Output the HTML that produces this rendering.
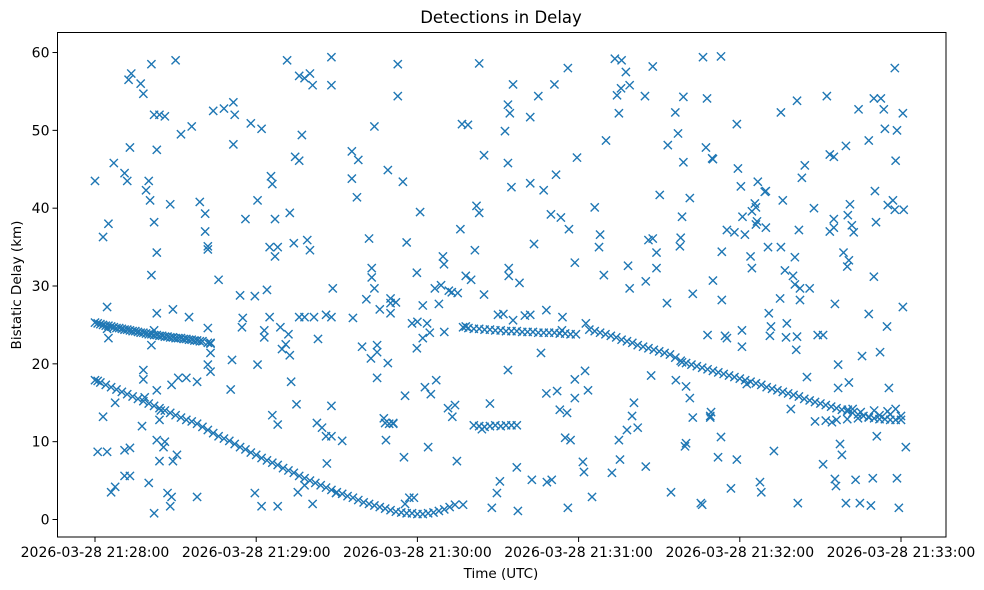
<!DOCTYPE html>
<html><head><meta charset="utf-8"><style>
body{margin:0;background:#fff;width:984px;height:590px;overflow:hidden}
svg{display:block;font-family:"DejaVu Sans","Liberation Sans",sans-serif}
</style></head><body>
<svg id="chart" width="984" height="590" viewBox="0 0 984 590">
<rect width="984" height="590" fill="#fff"/>
<text x="501" y="23" text-anchor="middle" font-size="16.5">Detections in Delay</text>
<text x="501" y="578" text-anchor="middle" font-size="13.5">Time (UTC)</text>
<text transform="translate(21,285) rotate(-90)" text-anchor="middle" font-size="13.5">Bistatic Delay (km)</text>
<g id="marks"></g>
<g id="axes"></g>
<rect x="57.5" y="32.5" width="888.5" height="504.5" fill="none" stroke="#000" stroke-width="1"/>
</svg>
<script>
const xTickVals=[0,60,120,180,240,300];
const xTickLabels=["2026-03-28 21:28:00","2026-03-28 21:29:00","2026-03-28 21:30:00","2026-03-28 21:31:00","2026-03-28 21:32:00","2026-03-28 21:33:00"];
const yTickVals=[0,10,20,30,40,50,60];
const yTickLabels=["0","10","20","30","40","50","60"];
const trackAT=[0,1,2,3,4,5,6,7,8,9,10,11,12,13,14,15,16,17,18,19,20,21,22,23,24,25,26,27,28,29,30,31,32,33,34,35,36,37,38,39,40,42,43];
const trackAD=[25.3,25.2,25.1,25.0,24.9,24.9,24.8,24.7,24.6,24.6,24.5,24.4,24.4,24.3,24.2,24.2,24.1,24.0,24.0,23.9,23.8,23.8,23.7,23.7,23.6,23.6,23.5,23.5,23.4,23.4,23.3,23.3,23.3,23.2,23.2,23.1,23.1,23.0,23.0,22.9,22.9,22.7,22.7];
const trackBT=[0,1,2,4,6,8,10,12,14,16,18,20,22,24,26,28,30,32,34,36,38,40,42,44,46,48,50,52,54,56,58,60,62,64,66,68,70,72,74,76,78,80,82,84,86,88,90,92,94,96,98,100,102,104,106,108,110,112,114,116,118,120,122,124,126,128,130,132,134];
const trackBD=[17.9,17.8,17.6,17.3,17.0,16.7,16.4,16.1,15.8,15.5,15.2,14.9,14.6,14.3,14.0,13.7,13.4,13.1,12.8,12.6,12.3,11.9,11.5,11.1,10.7,10.4,10.1,9.7,9.3,9.0,8.6,8.3,7.9,7.6,7.3,7.0,6.6,6.3,6.0,5.6,5.3,5.0,4.7,4.4,4.1,3.8,3.5,3.3,3.0,2.8,2.5,2.2,2.0,1.8,1.6,1.4,1.2,1.0,0.9,0.8,0.8,0.7,0.7,0.8,0.9,1.1,1.3,1.6,1.9];
const trackCT=[137,138,139,141,143,145,147,149,151,153,155,157,159,161,163,165,167,169,171,173,175,177,179,184,186,188,190,192,194,196,198,200,202,204,206,208,210,212,214,216,218,220,222,224,226,228,230,232,234,236,238,240,242,244,246,248,250,252,254,256,258,260,262,264,266,268,270,272,274,276,278,280,282,284,286,288,290,292,294,296,298,300];
const trackCD=[24.7,24.8,24.6,24.5,24.5,24.4,24.4,24.3,24.3,24.2,24.2,24.2,24.1,24.1,24.1,24.0,24.0,24.0,24.0,23.9,23.9,23.8,23.8,24.4,24.2,24.0,23.8,23.6,23.4,23.1,22.9,22.7,22.4,22.2,22.0,21.8,21.6,21.4,21.2,20.8,20.4,20.1,19.9,19.7,19.5,19.3,19.1,18.9,18.7,18.5,18.3,18.1,17.9,17.7,17.5,17.3,17.0,16.8,16.6,16.4,16.2,16.0,15.8,15.5,15.3,15.1,14.9,14.7,14.5,14.3,14.1,13.9,13.7,13.5,13.3,13.1,13.0,12.9,12.9,12.8,12.8,12.8];
const clusterT=[268,272,276,280,284,288,292,296,300,282,285,290,295,298,141,143,145,147,149,151,153,155,157,108,109.5,111,150,152,160,162,110,112];
const clusterD=[12.6,12.7,12.8,12.9,13.0,13.2,13.4,13.5,13.3,14.2,13.8,14.0,13.9,14.2,12.1,12.0,11.9,12.0,12.1,12.0,12.1,12.1,12.1,12.4,12.3,12.3,26.3,26.4,26.2,26.3,27.8,27.9];
const noiseT=[0,3,5,7,11,12,13,13.5,12.5,17,18,21,20,19,20.5,21,23,22,24,26,30,28,22,23,1,4.5,3,7.5,6,7.5,11,13,11,13,17.5,18.5,18,18,21,22,23,23,24,24.5,25.5,24,20,22,27,29,28,28.5,30.5,29,23,4.5,4.5,5,31,28.5,26,
32,36,34,35,38,38,39,41,41,42,42,42,43,43,42,43,44,48,51.5,52,51.5,46,51,50.5,54,55,54.7,56,58,59.5,62,60.5,60.5,59.5,62,63,63,64,65,65,65.5,66,67,68,67,66,68,68,69,69.6,
71.5,76,78,80,81,77,74.5,76,72.5,74,79,80,72,71,72.5,73,75,76,78,81.5,83,86,88,88,88,88.5,82.6,88,88,84.5,86,78,75.5,81,89.7,86.3,92,95.6,97.5,98,95.6,96,99.4,101,102,102.7,103,103,104,104,105,105,106,105,109,110,110,109,108.3,107.5,111,112.7,112.7,114.6,115.4,115,116,115.4,117,118.7,118,119.8,119.8,120,121,122,122,122.8,123.6,124,125,124.6,126.5,127,128,128.8,129.5,129.9,130,131.4,131.7,132.8,134,134.7,133,136,137,135,136.6,138.8,138,140,141.4,142,143,143,144,144.8,144.8,147,147.7,149.6,150.7,
152.6,153.7,153.7,154,154,153.7,155,154.4,155.6,157,157.4,155.6,158,162,162,162.6,163.4,165,166,167,168,168,168.2,169.7,170,171,171.6,172,173.4,173,173.8,174,175.7,175,176,176,176.4,177,178.6,178.6,178.6,179.4,181.6,182,182.4,182.7,183.5,185,186,187.6,188,189.4,190.2,192.4,193.5,194.3,195,195.4,195.8,195,196,197.6,198,199,199,198.4,199.9,200.6,202,204.7,205,205,206,207.6,207.6,207,209,209,210.2,212.9,213.2,214.4,216,216.2,217,217.7,218.5,218,219,219,218.5,219.6,220,220,221.4,221.4,222.5,222.5,225.5,226.3,226,227.4,227.8,229,229,228,230,229.7,230,229.3,231.9,233,233,233.3,233.3,234.5,235.2,235.2,236.7,238.9,238.9,238,240.8,240.4,239.3,240.8,241,241.9,242.6,244,244.5,244.5,245.6,246,246.4,246,246.7,247.5,248,249.3,249.7,249.7,250.5,251.6,250.8,251.2,252.7,255,255.3,255.3,256,256.8,257.2,257.5,259,259.8,260.5,260.5,261,261.3,261.3,261.6,262,262.4,262.4,263.1,264.2,265,266,267.6,269,271,271,272.4,273.5,273.5,274.3,275,275,275,275.4,275.4,275.8,276.6,276.6,277.3,278,278.6,280,279.5,279.5,280.2,280.2,280.6,281,280.6,281.7,282.4,283.1,284.2,284.7,285.5,288,288,288.8,289.5,289.9,289.9,290.3,290.7,291,292.2,292.5,293.6,294,294.8,295.1,295.5,297,297.7,297.7,298,298.5,298.5,299.2,300.7,300.7,301,301.8];
const noiseD=[43.5,36.3,38,45.8,44.5,43.5,47.8,57.3,56.5,56,54.7,58.5,43.5,42.3,41,31.4,47.5,52,52,51.8,59,40.5,38.2,34.3,8.7,8.7,13.2,15,3.5,4.2,5.6,5.6,8.9,9.2,12,15.7,19.2,18,22.4,24.3,16.6,10.2,12.8,14,9.3,7.5,4.7,0.8,3.4,7.5,1.7,2.9,8.3,27,26.5,27.3,24.5,23.3,18.2,17.3,10,
49.5,50.5,18.2,26,17.7,2.9,40.8,39.3,37,35.1,34.7,24.6,22.6,21.4,19.9,19,52.5,52.8,53.6,52,48.2,30.8,20.5,16.7,28.8,25.9,24.7,38.6,50.9,28.7,50.2,41,19.9,3.4,1.7,24.3,23.4,29.5,26,35,44.1,43.1,38.6,35,33.8,13.4,1.7,12.2,24.7,21.9,
59,57,56.7,57.3,55.8,49.4,46.6,46.1,39.4,35.5,35.9,34.6,23.8,22.5,21.1,17.7,14.8,26,26,26,23.2,26.3,55.8,59.4,26,29.7,12.4,14.6,10.7,11.8,10.7,4.4,3.5,2,3.4,7.2,10.1,47.3,41.4,46.2,43.8,25.9,22.2,28.3,36.1,20.7,32.3,31.1,50.5,29.7,22.4,18.2,27,21.5,44.9,26.5,28.4,20.1,10.2,13,12.4,58.5,54.4,43.4,15.9,8,35.6,2,2.8,2.8,25.2,31.7,22,25.4,39.5,23.3,27.5,17,25.2,9.3,16.1,24,29.7,17.9,27.7,30.1,33.8,32.8,24.1,14.3,29.4,29.2,14.7,7.5,13.2,37.3,1.9,29.1,50.8,50.7,31.3,30.8,34.6,40.3,58.6,39.4,11.6,28.9,46.8,14.9,1.5,3.4,4.9,
49.9,53.3,45.8,32.3,31.3,19.2,42.7,52.2,55.9,6.7,1.1,25.6,30.4,51.7,43.2,5.1,35.4,54.4,21.4,42.3,26.9,16.2,4.8,39.2,5.1,55.9,44.3,16.5,38.8,14.1,24.3,26,13.7,10.5,1.5,58,37.3,10.2,18,15.6,33,46.5,7.4,6.1,19.1,25.2,16.6,2.9,40.1,35,36.6,31.4,48.7,6,59.2,54.5,10.2,7.7,55.4,52.2,59,57.5,11.5,55.8,29.7,32.6,13.3,15,11.8,54.4,6.8,30.6,35.9,36.1,58.2,18.5,32.3,34.3,41.7,27.8,48.1,3.5,52.3,17.9,49.6,35.1,20.2,36.2,45.9,54.3,38.9,9.4,9.8,17.1,15.6,41.3,29,13.1,2.1,59.4,1.9,47.8,54.1,13.1,13.3,23.7,46.3,46.4,30.7,13.8,8,10.6,59.5,34.4,28.2,23.6,23.3,37.2,4,50.8,7.7,36.9,24.3,42.8,45.1,22.2,38.9,36.6,17.4,33.8,32.3,39.6,40.6,40.1,38.3,37.9,43.4,4.8,3.5,42.1,42.2,37.5,35,24.8,26.5,23.6,8.8,28.4,52.3,35,41,32,23.4,25.2,14.2,31.3,30.2,33.7,21.8,23.5,53.8,2.1,37.2,28.2,29.7,43.9,45.5,18.3,29.7,40,23.7,23.7,7.1,54.4,46.9,37,12.5,46.6,38.6,37.5,27.7,5.2,4.3,19.9,16.9,9.7,8.3,34.3,32.5,48,2.1,14.1,39.1,33.3,40.5,17.6,37.8,36.9,5.1,52.7,2.1,21,26.4,48.7,1.8,5.3,54.1,31.2,42.2,38.2,10.7,21.5,54.1,52.7,50.2,24.8,40.4,16.9,41,58,39.8,46.1,5.3,50,1.5,27.3,52.2,39.8,9.3,21.6];

const PX0=57.5,PX1=946,PY0=32.5,PY1=537;
function xs(t){return 95+t*(806/300);}
function ys(d){return 519.5-d*7.783;}
const NS="http://www.w3.org/2000/svg";
const marks=document.getElementById('marks');
const axes=document.getElementById('axes');
function mk(tag,attrs,parent){const e=document.createElementNS(NS,tag);for(const k in attrs)e.setAttribute(k,attrs[k]);parent.appendChild(e);return e;}
function drawSeries(T,D,name){
  const g=mk('g',{},marks);
  
  
  for(let i=0;i<T.length&&i<D.length;i++){
    const x=xs(T[i]),y=ys(D[i]),r=4.1;
    const p=mk('path',{d:`M${x-r},${y-r}L${x+r},${y+r}M${x-r},${y+r}L${x+r},${y-r}`,stroke:'#1f77b4','stroke-width':1.4,fill:'none'},g);
    
    
  }
}
drawSeries(trackAT,trackAD,'track-a');
drawSeries(trackBT,trackBD,'track-b');
drawSeries(trackCT,trackCD,'track-c');
drawSeries(clusterT,clusterD,'clusters');
drawSeries(noiseT,noiseD,'noise-detections');
xTickVals.forEach((v,i)=>{
  const x=xs(v);
  const l=mk('line',{x1:x,x2:x,y1:PY1,y2:PY1+5,stroke:'#000','stroke-width':1},axes);
  
  
  const t=mk('text',{x:x,y:PY1+20,'text-anchor':'middle','font-size':14},axes);
  
  
  t.textContent=xTickLabels[i];
});
yTickVals.forEach((v,i)=>{
  const y=ys(v);
  const l=mk('line',{x1:PX0-5,x2:PX0,y1:y,y2:y,stroke:'#000','stroke-width':1},axes);
  
  
  const t=mk('text',{x:PX0-8,y:y+5,'text-anchor':'end','font-size':14},axes);
  
  
  t.textContent=yTickLabels[i];
});
</script>
</body></html>
